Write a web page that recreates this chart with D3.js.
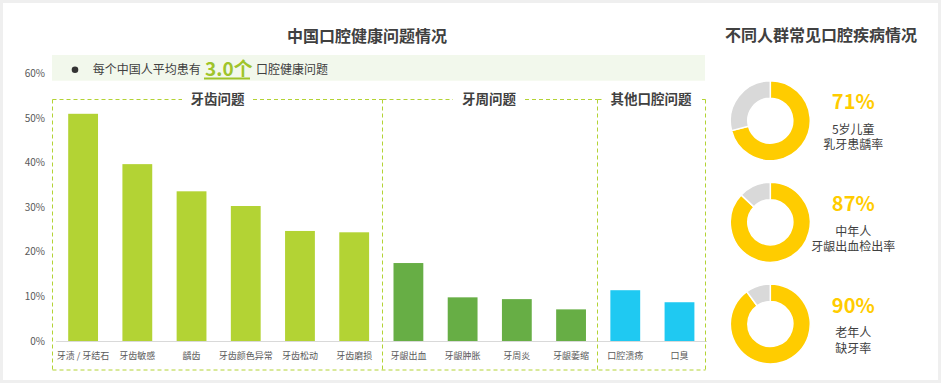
<!DOCTYPE html>
<html><head><meta charset="utf-8">
<script src="https://cdn.jsdelivr.net/npm/d3@7/dist/d3.min.js"></script>
<style>
html,body{margin:0;padding:0;background:#efefef;}
svg{display:block;font-family:"Noto Sans CJK SC","Noto Sans",sans-serif;}
</style></head>
<body>
<svg id="c" width="941" height="383"></svg>
<script>
const categories = ["牙渍 / 牙结石","牙齿敏感","龋齿","牙齿颜色异常","牙齿松动","牙齿磨损","牙龈出血","牙龈肿胀","牙周炎","牙龈萎缩","口腔溃疡","口臭"];
const values = [51, 39.7, 33.6, 30.3, 24.7, 24.4, 17.5, 9.8, 9.4, 7.1, 11.4, 8.7];
const groupOf = [0,0,0,0,0,0,1,1,1,1,2,2];
const groupNames = ["牙齿问题","牙周问题","其他口腔问题"];
const groupColors = ["#b3d334","#67ae45","#1fc9f2"];
const yTicks = [0,10,20,30,40,50,60];
const donutValues = [71, 87, 90];
const donutLabels = ["71%","87%","90%"];
const donutLines = [["5岁儿童","乳牙患龋率"],["中年人","牙龈出血检出率"],["老年人","缺牙率"]];

const svg = d3.select("#c");
svg.append("rect").attr("x",3).attr("y",3).attr("width",935).attr("height",377).attr("fill","#fff");

// titles
svg.append("text").attr("x",367).attr("y",42).attr("text-anchor","middle")
  .attr("font-size",16).attr("font-weight","bold").attr("fill","#404040").text("中国口腔健康问题情况");
svg.append("text").attr("x",821).attr("y",41).attr("text-anchor","middle")
  .attr("font-size",16).attr("font-weight","bold").attr("fill","#404040").text("不同人群常见口腔疾病情况");

// scales
const x = d3.scaleBand().domain(categories).range([56, 706.6]).paddingInner(0.45).paddingOuter(0.225);
const y = d3.scaleLinear().domain([0,60]).range([341, 73.7]);

// banner
svg.append("rect").attr("x",52).attr("y",55).attr("width",653).attr("height",25.7).attr("fill","#f2f8ec");
svg.append("circle").attr("cx",75).attr("cy",69.7).attr("r",3.3).attr("fill","#333");
svg.append("text").attr("x",92.7).attr("y",74).attr("font-size",12).attr("fill","#404040").text("每个中国人平均患有");
const big = svg.append("text").attr("x",205).attr("y",76).attr("font-size",19).attr("font-weight","bold").attr("fill","#9fc42a").text("3.0个");
svg.append("line").attr("x1",204).attr("x2",250).attr("y1",78.5).attr("y2",78.5).attr("stroke","#9fc42a").attr("stroke-width",1.8);
svg.append("text").attr("x",256).attr("y",74).attr("font-size",12).attr("fill","#404040").text("口腔健康问题");

// y axis labels
svg.append("g").selectAll("text").data(yTicks).join("text")
  .attr("x",45).attr("y",d=>y(d)).attr("dy","0.35em").attr("text-anchor","end")
  .attr("font-size",10).attr("fill","#595959").text(d=>d+"%");

// baseline
svg.append("line").attr("x1",56).attr("x2",707).attr("y1",y(0)+0.5).attr("y2",y(0)+0.5)
  .attr("stroke","#d9d9d9").attr("stroke-width",1.2);

// bars
svg.append("g").selectAll("rect").data(categories).join("rect")
  .attr("x",d=>x(d)).attr("width",x.bandwidth())
  .attr("y",(d,i)=>y(values[i])).attr("height",(d,i)=>y(0)-y(values[i]))
  .attr("fill",(d,i)=>groupColors[groupOf[i]]);

// x labels
svg.append("g").selectAll("text").data(categories).join("text")
  .attr("x",d=>x(d)+x.bandwidth()/2).attr("y",359).attr("text-anchor","middle")
  .attr("font-size",9).attr("fill","#595959").text(d=>d);

// group boxes
const boxTop = 99.5, boxBottom = 370;
const bounds = [52.5, 382.5, 597.5, 705.5];
const dash = {stroke:"#b3d334", "stroke-width":1, "stroke-dasharray":"4,3", fill:"none"};
function dl(x1,y1,x2,y2){
  const l = svg.append("line").attr("x1",x1).attr("y1",y1).attr("x2",x2).attr("y2",y2);
  Object.entries(dash).forEach(([k,v])=>l.attr(k,v));
}
bounds.forEach(b=>dl(b,boxTop,b,boxBottom));
dl(bounds[0],boxBottom,bounds[3],boxBottom);
const titleGaps = [[182,253],[453,525],[602,702]];
const titleX = [217.5,489,651];
groupNames.forEach((g,i)=>{
  dl(bounds[i],boxTop,titleGaps[i][0],boxTop);
  dl(titleGaps[i][1],boxTop,bounds[i+1],boxTop);
  svg.append("text").attr("x",titleX[i]).attr("y",boxTop+4.8).attr("text-anchor","middle")
    .attr("font-size",13.5).attr("font-weight","bold").attr("fill","#404040").text(g);
});

// donuts
const pie = d3.pie().sort(null).value(d=>d);
const arc = d3.arc().innerRadius(22.5).outerRadius(40);
const cy = [120.7, 222.3, 324];
donutValues.forEach((v,i)=>{
  const g = svg.append("g").attr("transform",`translate(770.3,${cy[i]})`);
  g.selectAll("path").data(pie([v,100-v])).join("path")
    .attr("d",arc).attr("fill",(d,j)=>j===0?"#ffcc00":"#d9d9d9")
    .attr("stroke","#fff").attr("stroke-width",1.5);
  svg.append("text").attr("x",853.3).attr("y",cy[i]-18.5).attr("dy","0.35em").attr("text-anchor","middle")
    .attr("font-size",20).attr("font-weight","bold").attr("fill","#ffcc00").text(donutLabels[i]);
  donutLines[i].forEach((t,k)=>{
    svg.append("text").attr("x",853.3).attr("y",cy[i]+9+k*15.5).attr("dy","0.35em").attr("text-anchor","middle")
      .attr("font-size",12).attr("fill","#404040").text(t);
  });
});
</script>
</body></html>
